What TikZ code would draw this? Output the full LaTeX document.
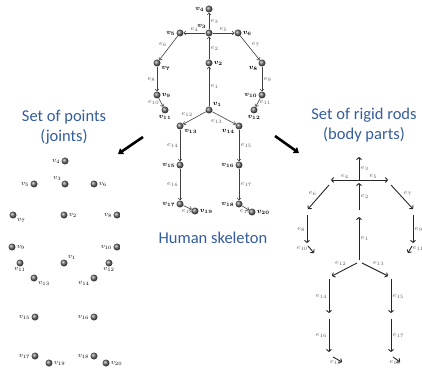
\documentclass[tikz,border=0pt]{standalone}
\usepackage{fontspec}
\newfontfamily\calib{Carlito}
\usetikzlibrary{arrows.meta}
\definecolor{ttl}{RGB}{52,92,158}
\begin{document}
\begin{tikzpicture}[x=1pt,y=-1pt,
 ball/.style={circle,inner sep=0pt,minimum size=7pt,shading=ball,ball color=gray!85!black},
 vl/.style={font=\fontsize{7.5}{8}\selectfont\boldmath, inner sep=1pt},
 vlp/.style={font=\fontsize{7.5}{8}\selectfont, inner sep=1pt},
 el/.style={font=\fontsize{7}{8}\selectfont, text=black!65, inner sep=1.5pt},
 edge/.style={draw=black!75, line width=0.6pt, -{To[length=2.5pt,width=4.5pt]}},
 rod/.style={draw=black!85, line width=0.9pt, -{To[length=3pt,width=5.5pt]}},
 big/.style={line width=2.6pt, -{Triangle[length=5pt,width=7pt]}},
 ttlst/.style={font=\calib\fontsize{16.5}{20}\selectfont, text=ttl, align=center}]
\useasboundingbox (0,0) rectangle (422,371);
\clip (0,0) rectangle (422,371);

% titles
\node[ttlst] (tl) at (64,127) {Set of points\\(joints)};
\node[ttlst] (tr) at (364,125) {Set of rigid rods\\(body parts)};
\node[ttlst] (tc) at (213,238) {Human skeleton};

% big arrows
\coordinate (a1) at (143,137); \coordinate (a2) at (118,154);
\coordinate (b1) at (275,136); \coordinate (b2) at (299,153);
\draw[big] (a1) -- (a2);
\draw[big] (b1) -- (b2);

% ---------- center skeleton ----------
\node[ball,label={[vl]left:$v_{4}$}] (c4) at (209,9) {};
\node[ball,label={[vl]115:$v_{3}$}] (c3) at (209,33) {};
\node[ball,label={[vl]left:$v_{5}$}] (c5) at (180,33) {};
\node[ball,label={[vl]right:$v_{6}$}] (c6) at (238,33) {};
\node[ball,label={[vl]right:$v_{2}$}] (c2) at (209,63) {};
\node[ball,label={[vl]-30:$v_{7}$}] (c7) at (157,63) {};
\node[ball,label={[vl]-150:$v_{8}$}] (c8) at (262,63) {};
\node[ball,label={[vl]right:$v_{9}$}] (c9) at (157,95) {};
\node[ball,label={[vl]left:$v_{10}$}] (c10) at (262,95) {};
\node[ball,label={[vl]below:$v_{11}$}] (c11) at (165,110) {};
\node[ball,label={[vl]below:$v_{12}$}] (c12) at (254,110) {};
\node[ball,label={[vl]45:$v_{1}$}] (c1) at (209,110) {};
\node[ball,label={[vl]-30:$v_{13}$}] (c13) at (180,126) {};
\node[ball,label={[vl]-150:$v_{14}$}] (c14) at (239,126) {};
\node[ball,label={[vl]left:$v_{15}$}] (c15) at (180,165) {};
\node[ball,label={[vl]left:$v_{16}$}] (c16) at (239,165) {};
\node[ball,label={[vl]left:$v_{17}$}] (c17) at (180,204) {};
\node[ball,label={[vl]left:$v_{18}$}] (c18) at (239,204) {};
\node[ball,label={[vl]right:$v_{19}$}] (c19) at (195,211) {};
\node[ball,label={[vl]right:$v_{20}$}] (c20) at (252,212) {};

\draw[edge] (c1) -- (c2) node[el,midway,right] {$e_{1}$};
\draw[edge] (c2) -- (c3) node[el,midway,right] {$e_{2}$};
\draw[edge] (c3) -- (c4) node[el,midway,right] {$e_{3}$};
\draw[edge] (c3) -- (c5) node[el,midway,above] {$e_{4}$};
\draw[edge] (c3) -- (c6) node[el,midway,above] {$e_{5}$};
\draw[edge] (c5) -- (c7) node[el,midway,above left] {$e_{6}$};
\draw[edge] (c6) -- (c8) node[el,midway,above right] {$e_{7}$};
\draw[edge] (c7) -- (c9) node[el,midway,left] {$e_{8}$};
\draw[edge] (c8) -- (c10) node[el,midway,right] {$e_{9}$};
\draw[edge] (c9) -- (c11) node[el,midway,left] {$e_{10}$};
\draw[edge] (c10) -- (c12) node[el,midway,right] {$e_{11}$};
\draw[edge] (c1) -- (c13) node[el,midway,above left] {$e_{12}$};
\draw[edge] (c1) -- (c14) node[el,midway,below left] {$e_{13}$};
\draw[edge] (c13) -- (c15) node[el,midway,left] {$e_{14}$};
\draw[edge] (c14) -- (c16) node[el,midway,right] {$e_{15}$};
\draw[edge] (c15) -- (c17) node[el,midway,left] {$e_{16}$};
\draw[edge] (c16) -- (c18) node[el,midway,right] {$e_{17}$};
\draw[edge] (c17) -- (c19) node[el,midway,below] {$e_{18}$};
\draw[edge] (c18) -- (c20) node[el,midway,below] {$e_{19}$};

% ---------- left: set of points ----------
\node[ball,label={[vlp]left:$v_{4}$}] (p4) at (65,161) {};
\node[ball,label={[vlp]135:$v_{3}$}] (p3) at (65,184) {};
\node[ball,label={[vlp]left:$v_{5}$}] (p5) at (34,184) {};
\node[ball,label={[vlp]right:$v_{6}$}] (p6) at (94,184) {};
\node[ball,label={[vlp]-30:$v_{7}$}] (p7) at (13,215) {};
\node[ball,label={[vlp]right:$v_{2}$}] (p2) at (64,215) {};
\node[ball,label={[vlp]left:$v_{8}$}] (p8) at (117,215) {};
\node[ball,label={[vlp]right:$v_{9}$}] (p9) at (12,247) {};
\node[ball,label={[vlp]left:$v_{10}$}] (p10) at (117,247) {};
\node[ball,label={[vlp]below:$v_{11}$}] (p11) at (20,263) {};
\node[ball,label={[vlp]45:$v_{1}$}] (p1) at (64,263) {};
\node[ball,label={[vlp]below:$v_{12}$}] (p12) at (109,263) {};
\node[ball,label={[vlp]-30:$v_{13}$}] (p13) at (34,278) {};
\node[ball,label={[vlp]-150:$v_{14}$}] (p14) at (94,278) {};
\node[ball,label={[vlp]left:$v_{15}$}] (p15) at (35,317) {};
\node[ball,label={[vlp]left:$v_{16}$}] (p16) at (94,317) {};
\node[ball,label={[vlp]left:$v_{17}$}] (p17) at (35,356) {};
\node[ball,label={[vlp]left:$v_{18}$}] (p18) at (94,356) {};
\node[ball,label={[vlp]right:$v_{19}$}] (p19) at (49,363) {};
\node[ball,label={[vlp]right:$v_{20}$}] (p20) at (106,363) {};

% ---------- right: set of rigid rods ----------
\coordinate (r3a) at (359,180); \coordinate (r3b) at (359,157);
\coordinate (r4b) at (331,180); \coordinate (r5b) at (388,180);
\coordinate (r2a) at (359,210); \coordinate (r2b) at (359,183);
\coordinate (r6a) at (329,185); \coordinate (r6b) at (308,209);
\coordinate (r7a) at (391,185); \coordinate (r7b) at (413,209);
\coordinate (r8a) at (307,215); \coordinate (r8b) at (307,243);
\coordinate (r9a) at (413,215); \coordinate (r9b) at (413,243);
\coordinate (r10a) at (308,246); \coordinate (r10b) at (314,253);
\coordinate (r11a) at (412,246); \coordinate (r11b) at (408,253);
\coordinate (r1a) at (359,260); \coordinate (r1b) at (359,217);
\coordinate (r12a) at (357,263); \coordinate (r12b) at (332,276);
\coordinate (r13a) at (362,263); \coordinate (r13b) at (388,276);
\coordinate (r14a) at (329,279); \coordinate (r14b) at (329,313);
\coordinate (r15a) at (391,279); \coordinate (r15b) at (391,313);
\coordinate (r16a) at (329,319); \coordinate (r16b) at (329,352);
\coordinate (r17a) at (391,319); \coordinate (r17b) at (391,352);
\coordinate (r18a) at (333,357); \coordinate (r18b) at (342,362);
\coordinate (r19a) at (393,357); \coordinate (r19b) at (400,362);

\draw[rod] (r3a) -- (r3b) node[el,midway,right] {$e_{3}$};
\draw[rod] (r3a) -- (r4b) node[el,midway,above] {$e_{4}$};
\draw[rod] (r3a) -- (r5b) node[el,midway,above] {$e_{5}$};
\draw[rod] (r2a) -- (r2b) node[el,midway,right] {$e_{2}$};
\draw[rod] (r6a) -- (r6b) node[el,midway,above left] {$e_{6}$};
\draw[rod] (r7a) -- (r7b) node[el,midway,above right] {$e_{7}$};
\draw[rod] (r8a) -- (r8b) node[el,midway,left] {$e_{8}$};
\draw[rod] (r9a) -- (r9b) node[el,midway,right] {$e_{9}$};
\draw[rod] (r10a) -- (r10b) node[el,pos=0.3,left] {$e_{10}$};
\draw[rod] (r11a) -- (r11b) node[el,pos=0.3,right] {$e_{11}$};
\draw[rod] (r1a) -- (r1b) node[el,midway,right] {$e_{1}$};
\draw[rod] (r12a) -- (r12b) node[el,pos=0.35,above left] {$e_{12}$};
\draw[rod] (r13a) -- (r13b) node[el,pos=0.35,above right] {$e_{13}$};
\draw[rod] (r14a) -- (r14b) node[el,midway,left] {$e_{14}$};
\draw[rod] (r15a) -- (r15b) node[el,midway,right] {$e_{15}$};
\draw[rod] (r16a) -- (r16b) node[el,midway,left] {$e_{16}$};
\draw[rod] (r17a) -- (r17b) node[el,midway,right] {$e_{17}$};
\draw[rod] (r18a) -- (r18b) node[el,pos=0.3,below] {$e_{18}$};
\draw[rod] (r19a) -- (r19b) node[el,pos=0.3,below] {$e_{19}$};
\end{tikzpicture}
\end{document}
